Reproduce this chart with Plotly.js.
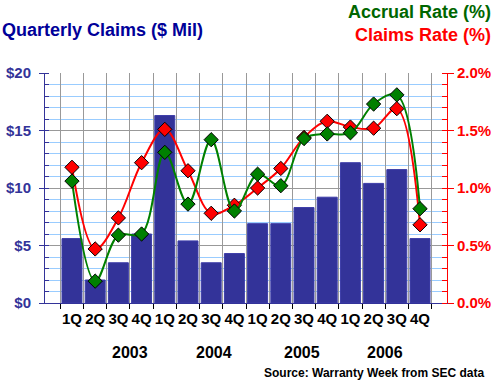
<!DOCTYPE html>
<html>
<head>
<meta charset="utf-8">
<script src="https://cdn.plot.ly/plotly-3.0.1.min.js"></script>
<style>html,body{margin:0;padding:0;background:#fff;}#chart{width:500px;height:386px;}</style>
</head>
<body>
<div id="chart"></div>
<script>
var quarters = ["1Q","2Q","3Q","4Q","1Q","2Q","3Q","4Q","1Q","2Q","3Q","4Q","1Q","2Q","3Q","4Q"];
var quarterYears = ["2003","2003","2003","2003","2004","2004","2004","2004","2005","2005","2005","2005","2006","2006","2006","2006"];
var claims = [5.6, 2.0, 3.5, 6.0, 16.3, 5.4, 3.5, 4.3, 6.9, 6.9, 8.3, 9.2, 12.2, 10.4, 11.6, 5.6];
var claimsRate = [1.18, 0.47, 0.74, 1.22, 1.51, 1.15, 0.78, 0.85, 1.00, 1.17, 1.44, 1.58, 1.53, 1.52, 1.69, 0.68];
var accrualRate = [1.06, 0.19, 0.59, 0.60, 1.31, 0.86, 1.42, 0.80, 1.12, 1.02, 1.43, 1.47, 1.48, 1.73, 1.81, 0.82];
var yearLabels = ["2003","2004","2005","2006"];
var yearPositions = [2.5, 6.1, 9.9, 13.5];
var leftTickVals = [0, 5, 10, 15, 20];
var leftTickText = ["$0", "$5", "$10", "$15", "$20"];
var rightTickVals = [0, 0.5, 1.0, 1.5, 2.0];
var rightTickText = ["0.0%", "0.5%", "1.0%", "1.5%", "2.0%"];

var ids = quarters.map(function(q,i){return q+" "+quarterYears[i];});
var font = "Arial, 'Liberation Sans', sans-serif";

var traces = [
  {type:"bar", x:ids, y:claims, yaxis:"y", marker:{color:"#333399", line:{color:"#3c3ca8", width:1}}, hoverinfo:"skip"},
  {type:"scatter", mode:"lines+markers", x:ids, y:claimsRate, yaxis:"y2",
   line:{color:"#ff0000", width:2, shape:"spline", smoothing:1},
   marker:{symbol:"diamond", size:11, color:"#ff0000", line:{color:"#000", width:1}}},
  {type:"scatter", mode:"lines+markers", x:ids, y:accrualRate, yaxis:"y2",
   line:{color:"#008000", width:2, shape:"spline", smoothing:1},
   marker:{symbol:"diamond", size:11, color:"#008000", line:{color:"#000", width:1}}}
];

var annotations = yearLabels.map(function(y,i){
  return {text:"<b>"+y+"</b>", x:yearPositions[i], xref:"x", yref:"paper", y:1-(352-73)/230, showarrow:false,
    font:{family:font, size:16, color:"#000"}, xanchor:"center", yanchor:"middle"};
});
annotations.push({text:"<b>Quarterly Claims ($ Mil)</b>", xref:"paper", yref:"paper", x:-45/402, xanchor:"left",
  y:1+(73-30)/230, yanchor:"middle", showarrow:false, font:{family:font, size:18, color:"#000099"}});
annotations.push({text:"<b>Accrual Rate (%)</b>", xref:"paper", yref:"paper", x:(493-45)/402, xanchor:"right",
  y:1+(73-12)/230, yanchor:"middle", showarrow:false, font:{family:font, size:18, color:"#006600"}});
annotations.push({text:"<b>Claims Rate (%)</b>", xref:"paper", yref:"paper", x:(493-45)/402, xanchor:"right",
  y:1+(73-35)/230, yanchor:"middle", showarrow:false, font:{family:font, size:18, color:"#ff0000"}});
annotations.push({text:"<b>Source: Warranty Week from SEC data</b>", xref:"paper", yref:"paper", x:(486-45)/402, xanchor:"right",
  y:1-(373-73)/230, yanchor:"middle", showarrow:false, font:{family:font, size:12, color:"#000"}});

var layout = {
  width:500, height:386,
  margin:{l:45, r:53, t:73, b:83, pad:0},
  paper_bgcolor:"#fff", plot_bgcolor:"#fff",
  showlegend:false, bargap:0.14,
  font:{family:font},
  xaxis:{type:"category", tickmode:"array", tickvals:ids, ticktext:quarters, tickson:"boundaries", tickangle:0,
    showgrid:true, gridcolor:"#999999", gridwidth:1,
    ticks:"outside", ticklen:5, tickcolor:"#000", ticklabelstandoff:2,
    showline:true, linecolor:"#333399", linewidth:1,
    tickfont:{family:font, size:15, color:"#000", weight:"bold"}, fixedrange:true},
  yaxis:{range:[0,20], tickmode:"array", tickvals:leftTickVals, ticktext:leftTickText,
    showgrid:true, gridcolor:"#999999", gridwidth:1, zeroline:false,
    minor:{dtick:1, showgrid:true, gridcolor:"#99ccff", ticks:"inside", ticklen:4, tickcolor:"#333399"},
    ticks:"outside", ticklen:5, tickcolor:"#333399", ticklabelstandoff:5,
    showline:true, linecolor:"#333399", linewidth:1,
    tickfont:{family:font, size:15, color:"#333399", weight:"bold"}, fixedrange:true},
  yaxis2:{range:[0,2], overlaying:"y", side:"right", tickmode:"array", tickvals:rightTickVals, ticktext:rightTickText,
    showgrid:false, zeroline:false,
    minor:{dtick:0.1, ticks:"inside", ticklen:5, tickcolor:"#ff0000", showgrid:false},
    ticks:"outside", ticklen:6, tickcolor:"#ff0000",
    showline:true, linecolor:"#ff0000", linewidth:1,
    tickfont:{family:font, size:15, color:"#ff0000", weight:"bold"}, fixedrange:true},
  annotations:annotations
};

Plotly.newPlot("chart", traces, layout, {displayModeBar:false, staticPlot:true});
</script>
</body>
</html>
